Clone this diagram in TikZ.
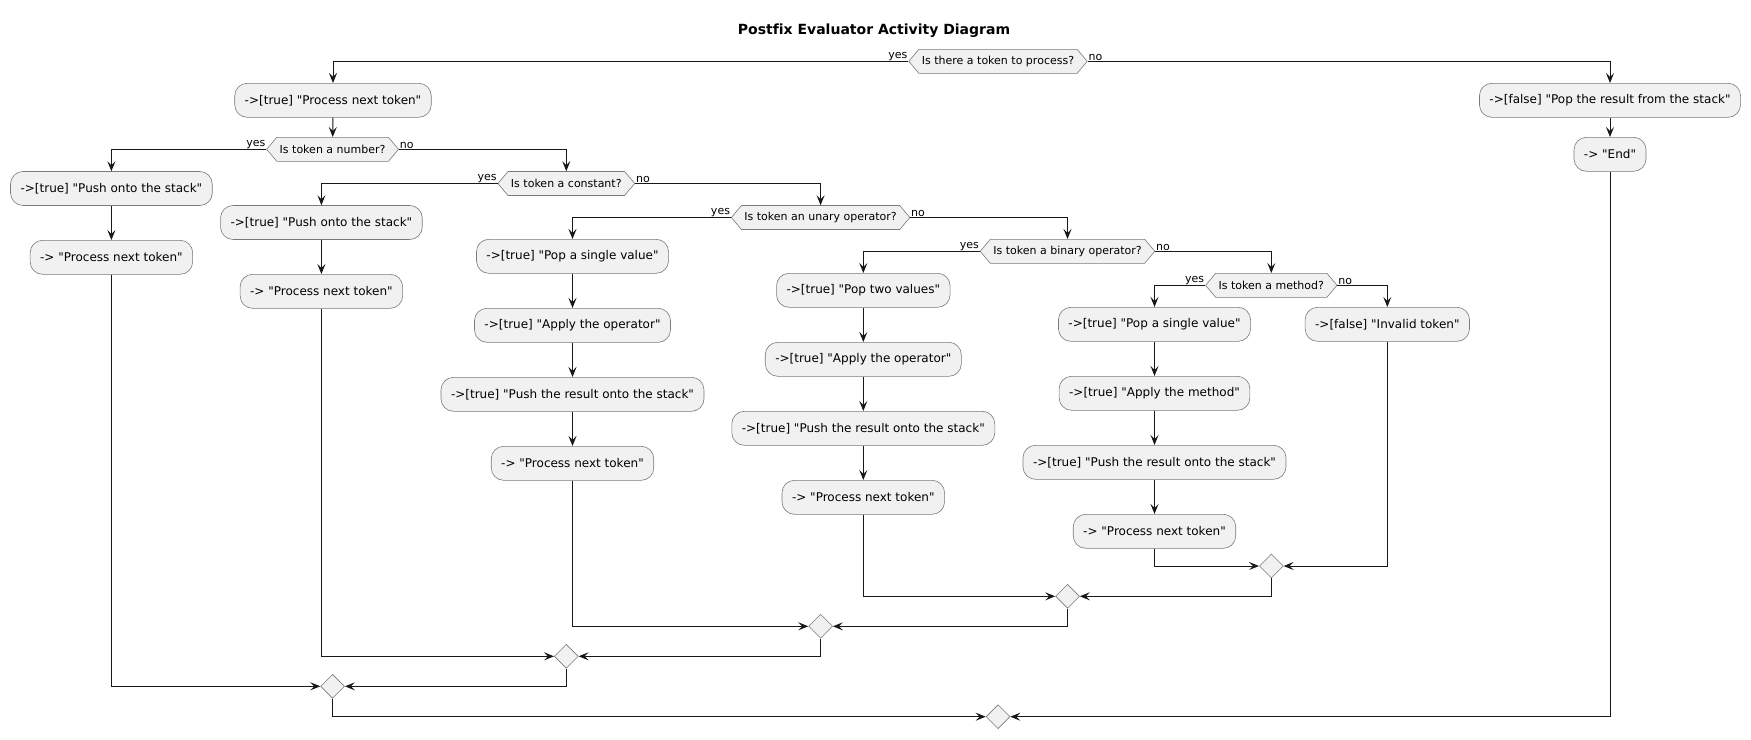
\documentclass[tikz,border=0pt]{standalone}
\usepackage{fontspec}
\setmainfont{DejaVu Sans}[Ligatures={TeXOff,CommonOff}]
\usetikzlibrary{arrows.meta,shapes.geometric,shapes.symbols}
\definecolor{actfill}{HTML}{F1F1F1}
\definecolor{actline}{HTML}{181818}
\definecolor{actedge}{HTML}{7A7A7A}
\begin{document}
\begin{tikzpicture}[x=1pt,y=-1pt,
    act/.style={draw=actedge,line width=0.6pt,fill=actfill,rounded corners=12.5pt,inner xsep=10pt,inner ysep=0pt,minimum height=34pt,font=\fontsize{12}{14}\selectfont},
    cond/.style={signal,signal to=west and east,signal pointer angle=100,draw=actedge,line width=0.6pt,fill=actfill,inner xsep=3pt,inner ysep=0pt,minimum height=24pt,font=\fontsize{11}{13}\selectfont},
    merge/.style={diamond,draw=actedge,line width=0.6pt,fill=actfill,inner sep=0pt,minimum width=24pt,minimum height=24pt},
    lbl/.style={inner sep=0.5pt,font=\fontsize{11}{13}\selectfont},
    flow/.style={draw=actline,line width=1pt,-{Stealth[length=10pt,width=8pt,inset=4pt]}}]
        \fill[white] (0,0) rectangle (1751,739);
        \useasboundingbox (0,0) rectangle (1751,739);
        \node[font=\bfseries\fontsize{14}{16}\selectfont] (title) at (874,31) {Postfix Evaluator Activity Diagram};
        \node[cond] (dTok) at (998,61.3) {Is there a token to process?};
        \node[act] (pNext) at (333,100.3) {->[true] "Process next token"};
        \node[act] (popRes) at (1610,100.3) {->[false] "Pop the result from the stack"};
        \node[act] (endAct) at (1610,154.3) {-> "End"};
        \node[cond] (dNum) at (332.6,149.3) {Is token a number?};
        \node[act] (nPush) at (111.4,188.5) {->[true] "Push onto the stack"};
        \node[act] (nNext) at (111.4,257.3) {-> "Process next token"};
        \node[cond] (dConst) at (566.3,183.5) {Is token a constant?};
        \node[act] (cPush) at (321.4,222.5) {->[true] "Push onto the stack"};
        \node[act] (cNext) at (321.4,291.3) {-> "Process next token"};
        \node[cond] (dUn) at (820.6,217.5) {Is token an unary operator?};
        \node[act] (uPop) at (572.5,256.3) {->[true] "Pop a single value"};
        \node[act] (uApply) at (572.5,325.3) {->[true] "Apply the operator"};
        \node[act] (uPush) at (572.5,394.3) {->[true] "Push the result onto the stack"};
        \node[act] (uNext) at (572.5,463.3) {-> "Process next token"};
        \node[cond] (dBin) at (1067.5,251.3) {Is token a binary operator?};
        \node[act] (bPop) at (863.3,290.3) {->[true] "Pop two values"};
        \node[act] (bApply) at (863.3,359.3) {->[true] "Apply the operator"};
        \node[act] (bPush) at (863.3,428.3) {->[true] "Push the result onto the stack"};
        \node[act] (bNext) at (863.3,497.3) {-> "Process next token"};
        \node[cond] (dMeth) at (1271.3,285.3) {Is token a method?};
        \node[act] (mPop) at (1154.5,324.3) {->[true] "Pop a single value"};
        \node[act] (mApply) at (1154.5,393.3) {->[true] "Apply the method"};
        \node[act] (mPush) at (1154.5,462.3) {->[true] "Push the result onto the stack"};
        \node[act] (mNext) at (1154.5,531.3) {-> "Process next token"};
        \node[act] (inval) at (1387.3,324.3) {->[false] "Invalid token"};
        \node[merge] (mgMeth) at (1271.3,566) {};
        \node[merge] (mgBin) at (1067.5,596.3) {};
        \node[merge] (mgUn) at (820.6,626.3) {};
        \node[merge] (mgConst) at (566.3,656.3) {};
        \node[merge] (mgNum) at (332.6,686.3) {};
        \node[merge] (mgEnd) at (998,716.7) {};
        \draw[flow] (dTok.west) node[lbl,anchor=south east]{yes} -| (pNext.north);
        \draw[flow] (dTok.east) node[lbl,anchor=south west]{no} -| (popRes.north);
        \draw[flow] (popRes) -- (endAct);
        \draw[flow] (pNext) -- (dNum);
        \draw[flow] (dNum.west) node[lbl,anchor=south east]{yes} -| (nPush.north);
        \draw[flow] (dNum.east) node[lbl,anchor=south west]{no} -| (dConst.north);
        \draw[flow] (nPush) -- (nNext);
        \draw[flow] (dConst.west) node[lbl,anchor=south east]{yes} -| (cPush.north);
        \draw[flow] (dConst.east) node[lbl,anchor=south west]{no} -| (dUn.north);
        \draw[flow] (cPush) -- (cNext);
        \draw[flow] (dUn.west) node[lbl,anchor=south east]{yes} -| (uPop.north);
        \draw[flow] (dUn.east) node[lbl,anchor=south west]{no} -| (dBin.north);
        \draw[flow] (uPop) -- (uApply);
        \draw[flow] (uApply) -- (uPush);
        \draw[flow] (uPush) -- (uNext);
        \draw[flow] (dBin.west) node[lbl,anchor=south east]{yes} -| (bPop.north);
        \draw[flow] (dBin.east) node[lbl,anchor=south west]{no} -| (dMeth.north);
        \draw[flow] (bPop) -- (bApply);
        \draw[flow] (bApply) -- (bPush);
        \draw[flow] (bPush) -- (bNext);
        \draw[flow] (dMeth.west) node[lbl,anchor=south east]{yes} -| (mPop.north);
        \draw[flow] (dMeth.east) node[lbl,anchor=south west]{no} -| (inval.north);
        \draw[flow] (mPop) -- (mApply);
        \draw[flow] (mApply) -- (mPush);
        \draw[flow] (mPush) -- (mNext);
        \draw[flow] (mNext.south) |- (mgMeth.west);
        \draw[flow] (inval.south) |- (mgMeth.east);
        \draw[flow] (bNext.south) |- (mgBin.west);
        \draw[flow] (mgMeth.south) |- (mgBin.east);
        \draw[flow] (uNext.south) |- (mgUn.west);
        \draw[flow] (mgBin.south) |- (mgUn.east);
        \draw[flow] (cNext.south) |- (mgConst.west);
        \draw[flow] (mgUn.south) |- (mgConst.east);
        \draw[flow] (nNext.south) |- (mgNum.west);
        \draw[flow] (mgConst.south) |- (mgNum.east);
        \draw[flow] (mgNum.south) |- (mgEnd.west);
        \draw[flow] (endAct.south) |- (mgEnd.east);
    \end{tikzpicture}
\end{document}
